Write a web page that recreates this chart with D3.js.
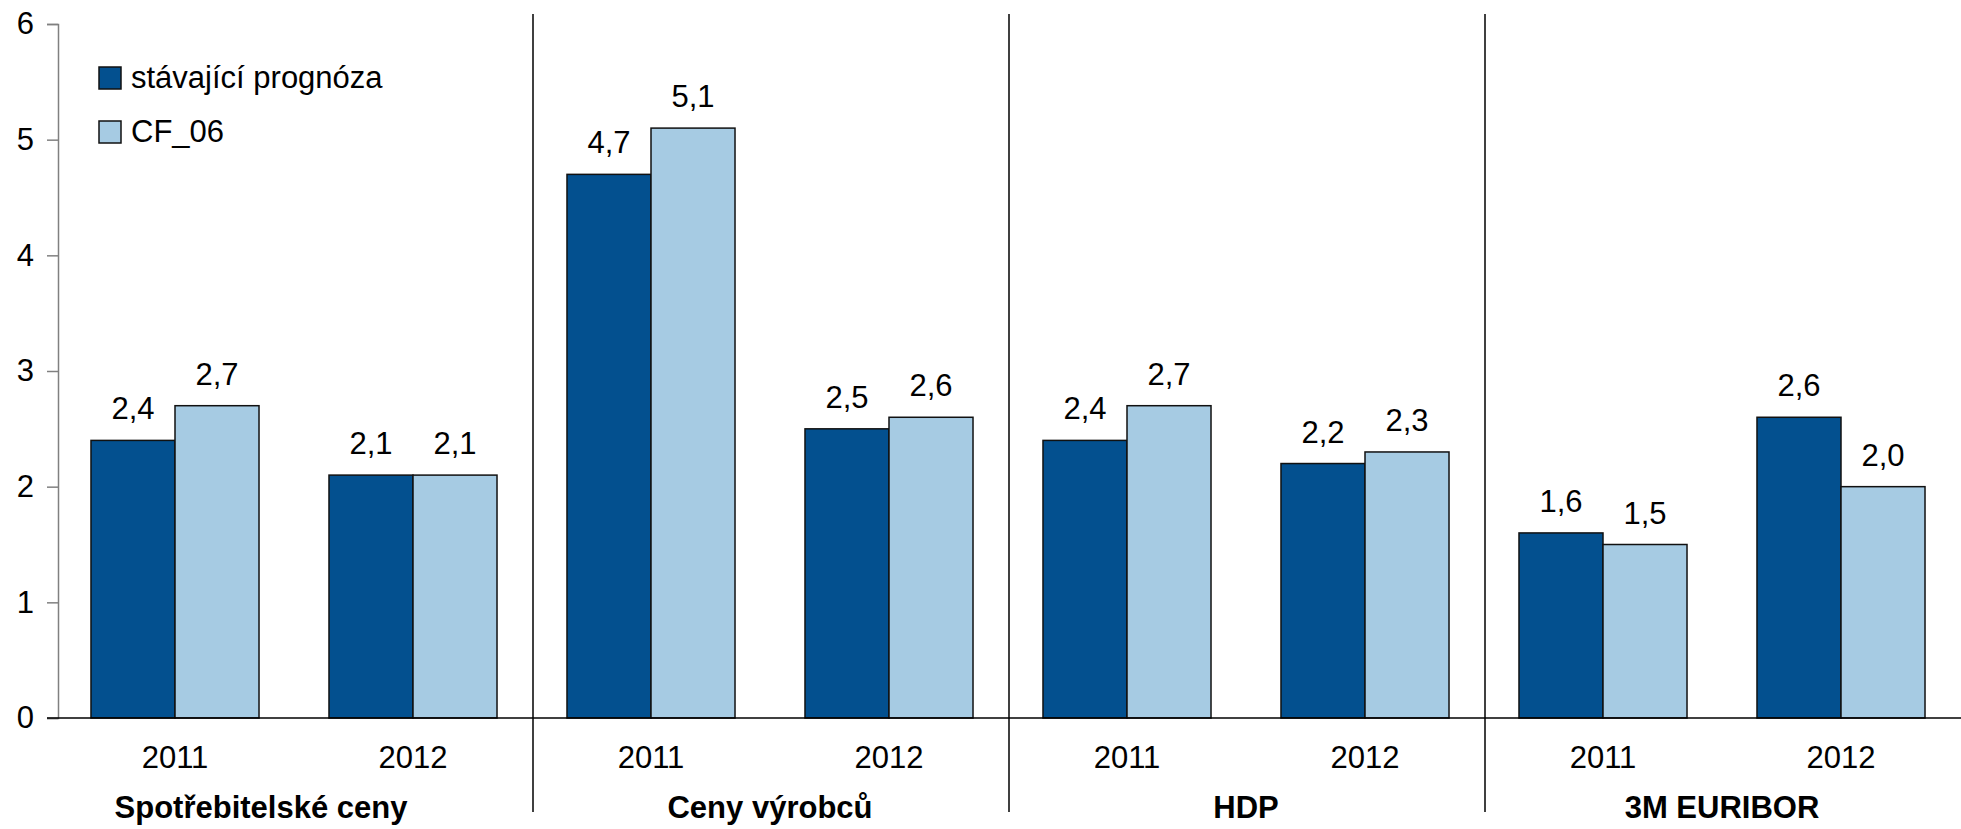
<!DOCTYPE html>
<html lang="cs">
<head>
<meta charset="UTF-8"/>
<title>Prognóza vs CF</title>
<script src="https://cdn.jsdelivr.net/npm/d3@7"></script>
<style>
  body { margin: 0; background: #fff; }
  text { font-family: "Liberation Sans", Arial, sans-serif; fill: #000; }
</style>
</head>
<body>
<script>
var w = 1961;
var h = 829;
var fs = "31px";

var groups = ["Spotřebitelské ceny", "Ceny výrobců", "HDP", "3M EURIBOR"];
var years = ["2011", "2012"];
var seriesNames = ["stávající prognóza", "CF_06"];
var current = [2.4, 2.1, 4.7, 2.5, 2.4, 2.2, 1.6, 2.6];
var cf06 = [2.7, 2.1, 5.1, 2.6, 2.7, 2.3, 1.5, 2.0];
var yTicks = [0, 1, 2, 3, 4, 5, 6];

var colors = ["#03508f", "#a6cbe3"];

// one band per group/year pair
var cats = [];
groups.forEach(function(g, gi) {
  years.forEach(function(yr, yi) { cats.push({ group: gi, year: yr, idx: gi * 2 + yi }); });
});

var xScale = d3.scaleBand()
  .domain(d3.range(cats.length))
  .range([56, 1960])
  .paddingInner(0.294)
  .paddingOuter(0.147);

var xSub = d3.scaleBand()
  .domain([0, 1])
  .range([0, xScale.bandwidth()]);

var yScale = d3.scaleLinear()
  .domain([0, 6])
  .range([718, 24]);

var svg = d3.select("body").append("svg")
  .attr("width", w)
  .attr("height", h);

// y axis
var yAxis = svg.append("g")
  .attr("transform", "translate(58,0)")
  .call(d3.axisLeft(yScale).tickValues(yTicks).tickSize(11).tickPadding(13).tickFormat(d3.format("d")));
yAxis.select(".domain").attr("stroke", "#808080").attr("stroke-width", 1.5);
yAxis.selectAll(".tick line").attr("stroke", "#808080").attr("stroke-width", 1.5);
yAxis.selectAll(".tick text")
  .attr("font-size", fs)
  .attr("font-family", "Liberation Sans, Arial, sans-serif")
  .attr("fill", "#000");

// group separators
var step = xScale.step();
svg.selectAll("line.sep")
  .data([2, 4, 6])
  .enter()
  .append("line")
  .attr("class", "sep")
  .attr("x1", function(d) { return xScale(d) - step * xScale.paddingInner() / 2 + 1; })
  .attr("x2", function(d) { return xScale(d) - step * xScale.paddingInner() / 2 + 1; })
  .attr("y1", 14)
  .attr("y2", 812)
  .attr("stroke", "#000")
  .attr("stroke-width", 1.5);

// bars
var series = [current, cf06];
series.forEach(function(vals, si) {
  svg.selectAll("rect.s" + si)
    .data(vals)
    .enter()
    .append("rect")
    .attr("class", "s" + si)
    .attr("x", function(d, i) { return xScale(i) + xSub(si); })
    .attr("y", function(d) { return yScale(d); })
    .attr("width", xSub.bandwidth())
    .attr("height", function(d) { return yScale(0) - yScale(d); })
    .attr("fill", colors[si])
    .attr("stroke", "#111")
    .attr("stroke-width", 1.5);

  svg.selectAll("text.v" + si)
    .data(vals)
    .enter()
    .append("text")
    .attr("class", "v" + si)
    .text(function(d) { return d.toFixed(1).replace(".", ","); })
    .attr("x", function(d, i) { return xScale(i) + xSub(si) + xSub.bandwidth() / 2; })
    .attr("y", function(d) { return yScale(d) - 21; })
    .attr("font-size", fs)
    .attr("text-anchor", "middle");
});

// baseline
svg.append("line")
  .attr("x1", 47)
  .attr("x2", w)
  .attr("y1", yScale(0))
  .attr("y2", yScale(0))
  .attr("stroke", "#000")
  .attr("stroke-width", 1.5);

// year labels
svg.selectAll("text.year")
  .data(cats)
  .enter()
  .append("text")
  .attr("class", "year")
  .text(function(d) { return d.year; })
  .attr("x", function(d) { return xScale(d.idx) + xScale.bandwidth() / 2; })
  .attr("y", 768)
  .attr("font-size", fs)
  .attr("text-anchor", "middle");

// group labels
svg.selectAll("text.group")
  .data(groups)
  .enter()
  .append("text")
  .attr("class", "group")
  .text(function(d) { return d; })
  .attr("x", function(d, i) {
    var c = (xScale(i * 2) + xScale(i * 2 + 1) + xScale.bandwidth()) / 2;
    return i === 0 ? c - 33 : c;
  })
  .attr("y", 818)
  .attr("font-size", fs)
  .attr("font-weight", "bold")
  .attr("text-anchor", "middle");

// legend
var legend = svg.selectAll("g.legend")
  .data(seriesNames)
  .enter()
  .append("g")
  .attr("class", "legend")
  .attr("transform", function(d, i) { return "translate(99," + (67 + i * 54) + ")"; });

legend.append("rect")
  .attr("width", 22)
  .attr("height", 22)
  .attr("fill", function(d, i) { return colors[i]; })
  .attr("stroke", "#111")
  .attr("stroke-width", 1.5);

legend.append("text")
  .text(function(d) { return d; })
  .attr("x", 32)
  .attr("y", 21)
  .attr("font-size", fs);
</script>
</body>
</html>
